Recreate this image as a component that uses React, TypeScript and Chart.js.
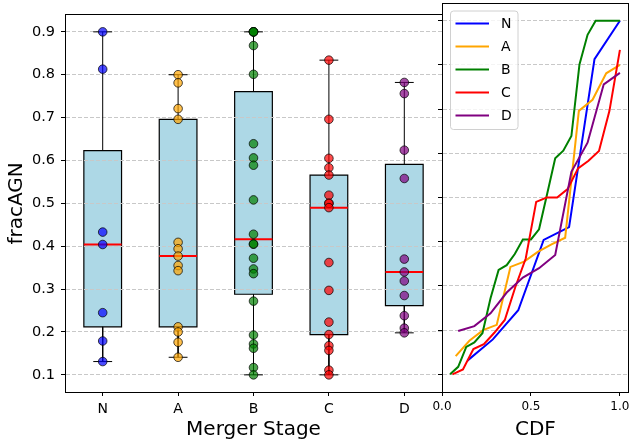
import React, { useEffect, useRef } from 'react';
import { Chart, registerables } from 'chart.js';

Chart.register(...registerables);

// ---------------- data ----------------
const categories = ['N', 'A', 'B', 'C', 'D'];
const fracN = [0.900, 0.813, 0.433, 0.404, 0.245, 0.179, 0.131];
const fracA = [0.800, 0.781, 0.721, 0.696, 0.409, 0.394, 0.377, 0.355, 0.343, 0.212, 0.200, 0.176, 0.141];
const fracB = [0.900, 0.900, 0.900, 0.900, 0.868, 0.801, 0.639, 0.606, 0.589, 0.508, 0.428, 0.405, 0.405, 0.372, 0.347, 0.336, 0.272, 0.193, 0.172, 0.162, 0.117, 0.100];
const fracC = [0.834, 0.696, 0.605, 0.583, 0.566, 0.519, 0.500, 0.500, 0.490, 0.362, 0.297, 0.223, 0.194, 0.168, 0.157, 0.111, 0.100];
const fracD = [0.782, 0.756, 0.624, 0.558, 0.370, 0.340, 0.319, 0.285, 0.238, 0.209, 0.198];
const yTicks = [0.1, 0.2, 0.3, 0.4, 0.5, 0.6, 0.7, 0.8, 0.9];
const cdfTicks = [0.0, 0.5, 1.0];

// ---------------- styles ----------------
const seriesRGB = ['0,0,255', '255,165,0', '0,128,0', '255,0,0', '128,0,128'];
const FONT = "'DejaVu Sans', sans-serif";
const GRID_COLOR = '#c8c8c8';

Chart.defaults.font.family = FONT;
Chart.defaults.color = '#000';

const groups = [fracN, fracA, fracB, fracC, fracD];

function quantile(sorted: number[], p: number) {
  const pos = (sorted.length - 1) * p;
  const lo = Math.floor(pos);
  const hi = Math.ceil(pos);
  return sorted[lo] + (sorted[hi] - sorted[lo]) * (pos - lo);
}

function boxStats(values: number[]) {
  const s = [...values].sort((a, b) => a - b);
  const q1 = quantile(s, 0.25);
  const med = quantile(s, 0.5);
  const q3 = quantile(s, 0.75);
  const iqr = q3 - q1;
  const lo = s.find((v) => v >= q1 - 1.5 * iqr) as number;
  const hi = [...s].reverse().find((v) => v <= q3 + 1.5 * iqr) as number;
  return { s, q1, med, q3, lo, hi };
}

const alignPx = (p: number) => Math.round(p - 0.5) + 0.5;

const framePlugin = {
  id: 'frame',
  afterDatasetsDraw(chart: any) {
    const { ctx, chartArea } = chart;
    const l = alignPx(chartArea.left);
    const r = alignPx(chartArea.right);
    const t = alignPx(chartArea.top);
    const b = alignPx(chartArea.bottom);
    ctx.save();
    ctx.strokeStyle = '#000';
    ctx.lineWidth = 1;
    ctx.strokeRect(l, t, r - l, b - t);
    ctx.restore();
  },
};

const gridOverBoxes = {
  id: 'gridOverBoxes',
  beforeDatasetsDraw(chart: any) {
    chart.$gridDone = false;
  },
  beforeDatasetDraw(chart: any, args: any) {
    const ds: any = chart.data.datasets[args.index];
    if (!chart.$gridDone && ds.kind !== 'box') {
      chart.scales.y.drawGrid(chart.chartArea);
      chart.$gridDone = true;
    }
  },
};

const cdfLegend = {
  id: 'cdfLegend',
  afterDraw(chart: any) {
    const { ctx, chartArea } = chart;
    const x0 = chartArea.left + 8.5;
    const y0 = chartArea.top + 8;
    const w = 67.5;
    const h = 118.5;
    ctx.save();
    ctx.beginPath();
    ctx.roundRect(x0, y0, w, h, 3);
    ctx.fillStyle = 'rgba(255,255,255,0.8)';
    ctx.fill();
    ctx.strokeStyle = '#d0d0d0';
    ctx.lineWidth = 1;
    ctx.stroke();
    ctx.font = `14px ${FONT}`;
    ctx.textBaseline = 'middle';
    ctx.textAlign = 'left';
    chart.data.datasets.forEach((ds: any, i: number) => {
      const yy = y0 + 12.5 + i * 23;
      ctx.beginPath();
      ctx.moveTo(x0 + 5, yy);
      ctx.lineTo(x0 + 38.5, yy);
      ctx.strokeStyle = ds.borderColor;
      ctx.lineWidth = 2;
      ctx.stroke();
      ctx.fillStyle = '#000';
      ctx.fillText(ds.label, x0 + 50.5, yy + 1);
    });
    ctx.restore();
  },
};

function yAxis(showLabels: boolean, width: number, title?: string) {
  return {
    type: 'linear',
    min: 0.06,
    max: 0.94,
    afterBuildTicks: (s: any) => {
      s.ticks = yTicks.map((v) => ({ value: v }));
    },
    afterFit: (s: any) => {
      s.width = width;
    },
    ticks: {
      display: showLabels,
      callback: (v: any) => Number(v).toFixed(1),
      font: { size: 14.5 },
      padding: 6,
      color: '#000',
    },
    grid: {
      color: GRID_COLOR,
      lineWidth: 1,
      tickColor: '#000',
      tickLength: 4,
      tickWidth: 1,
      tickBorderDash: [],
    },
    border: { color: '#000', width: 1, dash: [4, 2] },
    title: title
      ? { display: true, text: title, font: { size: 20 }, padding: { top: 4.5, bottom: 0 }, color: '#000' }
      : { display: false },
  };
}

export default function App() {
  const leftRef = useRef<HTMLCanvasElement | null>(null);
  const rightRef = useRef<HTMLCanvasElement | null>(null);

  useEffect(() => {
    const stats = groups.map(boxStats);

    const pointSets = groups.map((vals, i) => ({
      label: categories[i],
      kind: 'point',
      data: vals.map((v) => ({ x: i + 1, y: v })),
      showLine: false,
      backgroundColor: `rgba(${seriesRGB[i]},0.7)`,
      borderColor: 'rgba(0,0,0,0.7)',
      borderWidth: 1,
      pointRadius: 4.3,
    }));
    const medianSets = stats.map((st, i) => ({
      kind: 'median',
      data: [
        { x: i + 0.75, y: st.med },
        { x: i + 1.25, y: st.med },
      ],
      showLine: true,
      borderColor: 'red',
      borderWidth: 2,
      pointRadius: 0,
    }));
    const whiskerSets = stats.map((st, i) => ({
      kind: 'whisker',
      data: [
        { x: i + 1, y: st.q3 },
        { x: i + 1, y: st.hi },
        { x: i + 1, y: null },
        { x: i + 0.875, y: st.hi },
        { x: i + 1.125, y: st.hi },
        { x: i + 1, y: null },
        { x: i + 1, y: st.q1 },
        { x: i + 1, y: st.lo },
        { x: i + 1, y: null },
        { x: i + 0.875, y: st.lo },
        { x: i + 1.125, y: st.lo },
      ],
      showLine: true,
      spanGaps: false,
      borderColor: '#000',
      borderWidth: 1,
      pointRadius: 0,
    }));
    const boxSets = stats.map((st, i) => ({
      kind: 'box',
      data: [
        { x: i + 0.75, y: st.q1 },
        { x: i + 1.25, y: st.q1 },
        { x: i + 1.25, y: st.q3 },
        { x: i + 0.75, y: st.q3 },
        { x: i + 0.75, y: st.q1 },
      ],
      showLine: true,
      fill: 'shape',
      backgroundColor: '#add8e6',
      borderColor: '#000',
      borderWidth: 1.2,
      borderCapStyle: 'square',
      borderJoinStyle: 'miter',
      pointRadius: 0,
    }));

    const left = new Chart(leftRef.current as HTMLCanvasElement, {
      type: 'scatter',
      data: { datasets: [...pointSets, ...medianSets, ...whiskerSets, ...boxSets] as any },
      options: {
        animation: false,
        responsive: false,
        events: [],
        layout: { padding: { left: 0, top: 3, right: 191, bottom: 0 } },
        plugins: { legend: { display: false }, tooltip: { enabled: false } },
        scales: {
          x: {
            type: 'linear',
            min: 0.5,
            max: 5.5,
            afterBuildTicks: (s: any) => {
              s.ticks = categories.map((_, i) => ({ value: i + 1 }));
            },
            afterFit: (s: any) => {
              s.height = 54;
            },
            ticks: {
              callback: (v: any) => categories[Math.round(Number(v)) - 1] ?? '',
              font: { size: 14 },
              padding: 4.5,
              maxRotation: 0,
              autoSkip: false,
              color: '#000',
            },
            grid: { drawOnChartArea: false, tickLength: 4, tickColor: '#000', tickWidth: 1 },
            border: { color: '#000', width: 1 },
            title: { display: true, text: 'Merger Stage', font: { size: 20 }, padding: { top: 0, bottom: 4 }, color: '#000' },
          },
          y: yAxis(true, 65, 'fracAGN') as any,
        },
      } as any,
      plugins: [gridOverBoxes, framePlugin],
    });

    const cdfSets = groups.map((vals, i) => {
      const s = [...vals].sort((a, b) => a - b);
      return {
        label: categories[i],
        data: s.map((v, j) => ({ x: (j + 1) / s.length, y: v })),
        showLine: true,
        borderColor: `rgb(${seriesRGB[i]})`,
        borderWidth: 2,
        pointRadius: 0,
        fill: false,
        order: categories.length - 1 - i,
      };
    });

    const right = new Chart(rightRef.current as HTMLCanvasElement, {
      type: 'scatter',
      data: { datasets: cdfSets as any },
      options: {
        animation: false,
        responsive: false,
        events: [],
        layout: { padding: { left: 438, top: 3, right: 1, bottom: 0 } },
        plugins: { legend: { display: false }, tooltip: { enabled: false } },
        scales: {
          x: {
            type: 'linear',
            min: 0,
            max: 1.05,
            afterBuildTicks: (s: any) => {
              s.ticks = cdfTicks.map((v) => ({ value: v }));
            },
            afterFit: (s: any) => {
              s.height = 54;
            },
            ticks: {
              callback: (v: any) => Number(v).toFixed(1),
              font: { size: 12 },
              padding: 3.5,
              maxRotation: 0,
              autoSkip: false,
              color: '#000',
            },
            grid: { drawOnChartArea: false, tickLength: 4, tickColor: '#000', tickWidth: 1 },
            border: { color: '#000', width: 1 },
            title: { display: true, text: 'CDF', font: { size: 20 }, padding: { top: 0, bottom: 4 }, color: '#000' },
          },
          y: yAxis(false, 4) as any,
        },
      } as any,
      plugins: [framePlugin, cdfLegend],
    });

    return () => {
      left.destroy();
      right.destroy();
    };
  }, []);

  return (
    <div style={{ position: 'absolute', left: 0, top: 0, width: 633, height: 446, background: '#fff' }}>
      <canvas ref={leftRef} width={633} height={446} style={{ position: 'absolute', left: 0, top: 0 }} />
      <canvas ref={rightRef} width={633} height={446} style={{ position: 'absolute', left: 0, top: 0 }} />
    </div>
  );
}
